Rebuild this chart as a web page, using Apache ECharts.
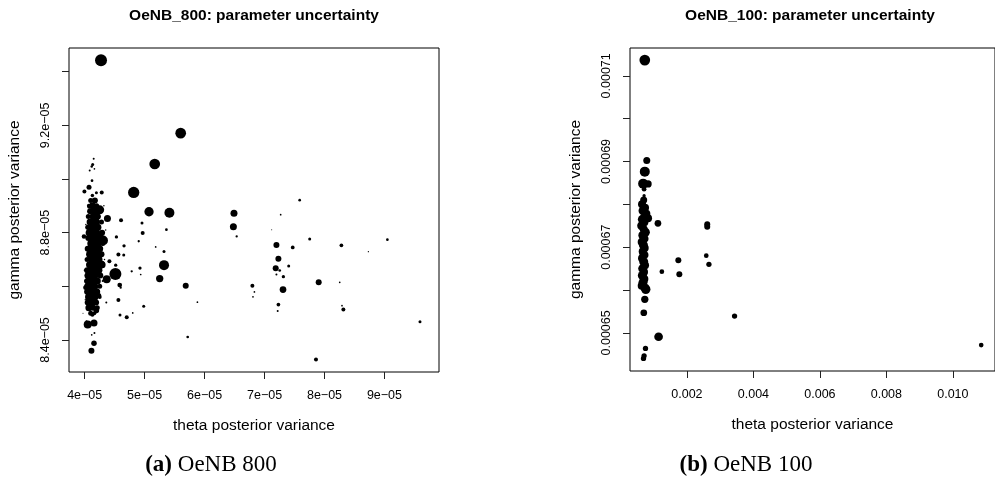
<!DOCTYPE html>
<html><head><meta charset="utf-8">
<script src="https://cdn.jsdelivr.net/npm/echarts@6/dist/echarts.min.js"></script>
<style>html,body{margin:0;padding:0;background:#fff}#c{width:995px;height:489px}</style>
</head><body><div id="c"></div>
<script>
// ---------- Panel (a) OeNB_800: theta (x1e-5), gamma (x1e-5), point weight ----------
const theta800 = [
 4.272,5.601,5.168,4.817,5.073,5.413,4.379,6.490,6.480,7.586,7.269,6.535,4.606,4.956,4.967,5.363,4.529,4.901,4.656,4.562,
 4.651,4.412,4.517,4.512,4.367,4.584,4.600,5.323,5.251,5.323,5.184,4.922,4.934,4.784,5.685,4.562,4.589,4.701,4.984,4.801,
 5.880,5.718,7.198,7.231,7.186,7.253,7.198,7.314,7.403,7.470,7.308,7.231,7.219,6.797,6.831,6.807,7.753,7.903,7.858,8.282,
 8.254,8.315,8.292,8.732,9.049,9.593,7.119,
 4.150,4.133,4.117,4.162,4.083,4.122,4.072,3.995,4.195,4.284,4.128,4.155,4.078,4.250,3.988,4.017,4.050,4.155,4.155,4.112,
 4.305,4.272,4.234,4.195,4.128,4.162,4.117,3.972,
 4.10,4.17, 4.07,4.13,4.20, 4.09,4.17,4.26, 4.06,4.14,4.22, 4.09,4.18,4.28, 4.05,4.12,4.22, 4.09,4.19,4.29,
 4.06,4.15,4.25, 4.11,4.21,4.30, 4.05,4.15,4.25, 4.09,4.19,4.28, 4.04,4.13,4.23, 4.08,4.17,4.29, 4.04,4.12,4.22,
 4.07,4.16,4.26, 4.03,4.11,4.21, 4.06,4.15,4.25, 4.04,4.12,4.20, 4.08,4.17,4.25, 4.05,4.12,4.19, 4.07,4.14,4.21,
 4.10,4.16,
 4.02,4.33,4.30,4.35,4.00,4.01,4.32,4.36,4.03
];
const gamma800 = [
 9.443,9.171,9.056,8.950,8.878,8.874,8.853,8.872,8.822,8.921,8.867,8.786,8.846,8.836,8.799,8.811,8.784,8.768,8.751,8.719,
 8.717,8.693,8.679,8.646,8.626,8.605,8.595,8.679,8.629,8.730,8.747,8.668,8.644,8.656,8.602,8.549,8.493,8.485,8.526,8.501,
 8.541,8.411,8.754,8.703,8.667,8.659,8.644,8.636,8.676,8.745,8.588,8.532,8.508,8.602,8.579,8.561,8.776,8.615,8.327,8.753,
 8.615,8.514,8.528,8.729,8.774,8.468,8.811,
 9.076,9.054,9.047,9.038,9.032,8.994,8.969,8.953,8.949,8.950,8.939,8.921,8.898,8.885,8.786,8.596,8.458,8.463,8.388,8.360,
 8.771,8.681,8.566,8.510,8.494,8.426,8.419,8.500,
 8.92,8.92, 8.90,8.90,8.90, 8.88,8.88,8.88, 8.86,8.86,8.86, 8.84,8.84,8.84, 8.82,8.82,8.82, 8.80,8.80,8.80,
 8.78,8.78,8.78, 8.76,8.76,8.76, 8.74,8.74,8.74, 8.72,8.72,8.72, 8.70,8.70,8.70, 8.68,8.68,8.68, 8.66,8.66,8.66,
 8.64,8.64,8.64, 8.62,8.62,8.62, 8.60,8.60,8.60, 8.58,8.58,8.58, 8.56,8.56,8.56, 8.54,8.54,8.54, 8.52,8.52,8.52,
 8.50,8.50,
 8.83,8.70,8.62,8.81,8.66,8.55,8.90,8.54,8.47
];
const weight800 = [
 12,10.7,10.7,11.3,9.3,10,7,7,7,2.7,1.7,2.3,4,3,4,2.7,3.3,2.3,3.3,4,
 3,4,3.3,12,8,4.7,2.3,10,7.3,3,1.7,3.3,1.7,2.3,6,4,3,4,3,1.7,
 1.7,2.7,6,6,6,2.7,2,3.3,3,3.7,6.7,3.7,2,4,1.7,1.7,3,6,4,3.7,
 1.7,4,1.7,1.3,2.7,3,1,
 2,3,2.5,1.7,2,2.7,5,4,3,4,3.5,4,4.5,9,4.5,5,8,7,5.5,6,
 10,8,5,5.5,4,2,1.7,1,
 5,6, 4,7,5, 6,8,4, 5,7,6, 7,9,5, 5,8,7, 9,8,6,
 6,10,9, 8,9,5, 6,9,7, 8,10,6, 5,9,8, 7,10,7, 6,8,9,
 9,8,6, 5,10,7, 8,9,5, 6,8,7, 9,7,4, 6,8,6, 7,6,5,
 5,4,
 1.5,1.5,2,1.5,2,1.5,1.5,2,2
];

// ---------- Panel (b) OeNB_100: theta (x1e-3), gamma (x1e-5), point weight ----------
const theta100 = [
 0.733,0.792,0.733,0.683,0.831,0.712,0.712,1.128,2.611,2.611,1.742,1.772,1.246,2.582,2.662,3.433,1.148,0.754,0.712,0.694,
 0.703,0.733,0.763,10.852,0.831,
 0.70,0.65,0.74,0.68,0.78,0.66,0.72,0.64,0.70,0.75,0.66,0.71,0.64,0.69,0.73,0.67,0.71,0.65,0.70,0.74,
 0.67,0.71,0.66,0.72,0.68,0.64,0.74
];
const gamma100 = [
 71.367,69.021,68.764,68.484,68.477,68.353,68.203,67.558,67.535,67.479,66.694,66.367,66.428,66.801,66.600,65.393,64.909,64.638,64.465,64.404,
 65.470,65.783,66.016,64.715,67.675,
 68.10,68.00,67.92,67.85,67.78,67.65,67.58,67.50,67.42,67.35,67.28,67.20,67.12,67.05,66.98,66.90,66.82,66.74,66.66,66.58,
 66.50,66.42,66.34,66.26,66.18,66.10,66.05
];
const weight100 = [
 10.7,7,10,10,7.3,4.7,3.3,6.7,6,6,6,6,4.7,4.7,5.3,5.3,8.7,5.3,5.3,5.3,
 6.7,7.3,9.3,4.7,8,
 7,8,8,9,8,9,8,9,8,9,8,9,8,9,8,8,9,8,9,8,
 9,8,9,8,9,8,9
];

// ---------- Axis ticks and labels ----------
const xTicks800 = [4e-5,5e-5,6e-5,7e-5,8e-5,9e-5];
const xLabels800 = ['4e\u221205','5e\u221205','6e\u221205','7e\u221205','8e\u221205','9e\u221205'];
const yTicks800 = [8.4e-5,8.6e-5,8.8e-5,9.0e-5,9.2e-5,9.4e-5];
const yLabelVals800 = [8.4e-5,8.8e-5,9.2e-5];
const yLabels800 = ['8.4e\u221205','8.8e\u221205','9.2e\u221205'];
const xTicks100 = [0.002,0.004,0.006,0.008,0.010];
const xLabels100 = ['0.002','0.004','0.006','0.008','0.010'];
const yTicks100 = [0.00065,0.00066,0.00067,0.00068,0.00069,0.00070,0.00071];
const yLabelVals100 = [0.00065,0.00067,0.00069,0.00071];
const yLabels100 = ['0.00065','0.00067','0.00069','0.00071'];

const titles = ['OeNB_800: parameter uncertainty','OeNB_100: parameter uncertainty'];
const xName = 'theta posterior variance';
const yName = 'gamma posterior variance';

const pts800 = theta800.map((t,i)=>[t*1e-5, gamma800[i]*1e-5, weight800[i]]);
const pts100 = theta100.map((t,i)=>[t*1e-3, gamma100[i]*1e-5, weight100[i]]);

const FONT = "'Liberation Sans', Arial, Helvetica, sans-serif";
const SERIF = "'Liberation Serif', 'DejaVu Serif', serif";
function fmt(vals, labels){
  return function(v){
    for (let i=0;i<vals.length;i++){ if (Math.abs(v-vals[i]) <= Math.abs(vals[i])*1e-6) return labels[i]; }
    return '';
  };
}
function xAxisCfg(grid, min, max, ticks, labels){
  return {
    type:'value', gridIndex:grid, min:min, max:max, scale:true,
    name:xName, nameLocation:'middle', nameGap:46,
    nameTextStyle:{fontFamily:FONT, fontSize:15.5, color:'#000'},
    axisLine:{show:false}, splitLine:{show:false},
    axisTick:{show:true, inside:false, length:7, customValues:ticks, lineStyle:{color:'#222', width:1}},
    axisLabel:{show:true, customValues:ticks, margin:17, formatter:fmt(ticks,labels),
      fontFamily:FONT, fontSize:12.5, color:'#000', hideOverlap:false}
  };
}
function yAxisCfg(grid, min, max, ticks, lvals, labels){
  return {
    type:'value', gridIndex:grid, min:min, max:max, scale:true,
    name:yName, nameLocation:'middle', nameGap:46, nameRotate:90,
    nameTextStyle:{fontFamily:FONT, fontSize:15.5, color:'#000'},
    axisLine:{show:false}, splitLine:{show:false},
    axisTick:{show:true, inside:false, length:7, customValues:ticks, lineStyle:{color:'#222', width:1}},
    axisLabel:{show:true, customValues:lvals, rotate:90, margin:17, formatter:fmt(lvals,labels),
      fontFamily:FONT, fontSize:12.5, color:'#000', hideOverlap:false}
  };
}

const chart = echarts.init(document.getElementById('c'), null, {renderer:'canvas'});
chart.setOption({
  animation:false,
  backgroundColor:'#fff',
  grid:[
    {left:69, top:48, width:370, height:324, show:true, borderColor:'#000', borderWidth:1, backgroundColor:'transparent', containLabel:false},
    {left:630, top:48, width:370, height:323, show:true, borderColor:'#000', borderWidth:1, backgroundColor:'transparent', containLabel:false}
  ],
  xAxis:[
    xAxisCfg(0, 3.738e-5, 9.91e-5, xTicks800, xLabels800),
    xAxisCfg(1, 0.000288, 0.011267, xTicks100, xLabels100)
  ],
  yAxis:[
    yAxisCfg(0, 8.2806e-5, 9.4884e-5, yTicks800, yLabelVals800, yLabels800),
    yAxisCfg(1, 0.0006411, 0.0007165, yTicks100, yLabelVals100, yLabels100)
  ],
  series:[
    {type:'scatter', xAxisIndex:0, yAxisIndex:0, data:pts800, symbol:'circle',
     symbolSize:function(v){return v[2];}, itemStyle:{color:'#000', opacity:1}, silent:true, clip:true},
    {type:'scatter', xAxisIndex:1, yAxisIndex:1, data:pts100, symbol:'circle',
     symbolSize:function(v){return v[2];}, itemStyle:{color:'#000', opacity:1}, silent:true, clip:true}
  ],
  graphic:[
    {type:'text', x:254, y:16, style:{text:titles[0], fontFamily:FONT, fontSize:15.5, fontWeight:'bold', fill:'#000', align:'center', verticalAlign:'middle'}},
    {type:'text', x:810, y:16, style:{text:titles[1], fontFamily:FONT, fontSize:15.5, fontWeight:'bold', fill:'#000', align:'center', verticalAlign:'middle'}},
    {type:'text', x:211, y:465, style:{text:'{b|(a)} OeNB 800', fontFamily:SERIF, fontSize:23, fill:'#000', align:'center', verticalAlign:'middle',
      rich:{b:{fontFamily:SERIF, fontSize:23, fontWeight:'bold', fill:'#000'}}}},
    {type:'text', x:746, y:465, style:{text:'{b|(b)} OeNB 100', fontFamily:SERIF, fontSize:23, fill:'#000', align:'center', verticalAlign:'middle',
      rich:{b:{fontFamily:SERIF, fontSize:23, fontWeight:'bold', fill:'#000'}}}}
  ]
});
</script></body></html>
